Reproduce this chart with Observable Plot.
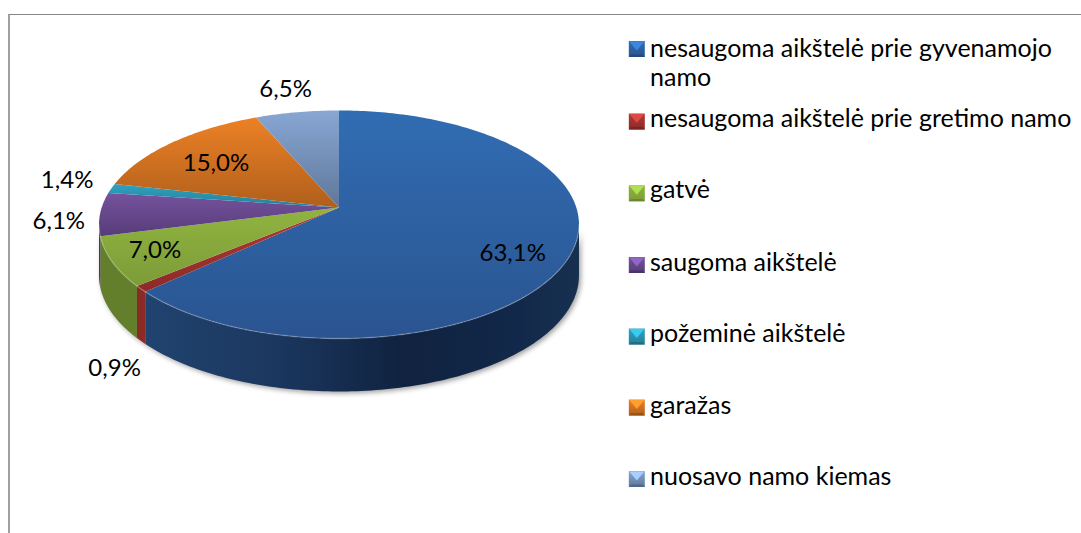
<!DOCTYPE html>
<html lang="lt">
<head>
<meta charset="utf-8">
<script src="https://cdn.jsdelivr.net/npm/d3@7"></script>
<script src="https://cdn.jsdelivr.net/npm/@observablehq/plot@0.6"></script>
<style>
html,body{margin:0;padding:0;width:1081px;height:533px;overflow:hidden;background:#fff}
#frame{position:absolute;left:8px;top:14px;right:-4px;bottom:-4px;border-top:1.5px solid #868686;border-left:2px solid #a0a0a0}
#chart{position:absolute;left:0;top:0}
svg{display:block}
</style>
</head>
<body>
<div id="frame"></div>
<div id="chart"></div>
<script>
// Data
const categories = [
  "nesaugoma aikštelė prie gyvenamojo\nnamo",
  "nesaugoma aikštelė prie gretimo namo",
  "gatvė",
  "saugoma aikštelė",
  "požeminė aikštelė",
  "garažas",
  "nuosavo namo kiemas"
];
const shares = [63.1, 0.9, 7.0, 6.1, 1.4, 15.0, 6.5];
const shareLabels = ["63,1%", "0,9%", "7,0%", "6,1%", "1,4%", "15,0%", "6,5%"];

// Styles
const faceTop = ["#316db3", "#b23a37", "#90b440", "#75529e", "#2ea3c2", "#ec8125", "#88a7d4"];
const faceBottom = ["#2a5490", "#8c2a28", "#7c9c38", "#563c78", "#257f98", "#b05f1c", "#5f7799"];
const wallColor = ["#17305a", "#8c2a28", "#637f2b", "#4a3066", "#1f6c82", "#a0561a", "#5f7799"];
const labelRadius = [0.75, 1.15, 0.75, 1.15, 1.15, 0.75, 1.15];
const labelNudge = [[3, 11], [7, 66], [-17, 3], [-5, 6], [-11, -5], [5, 6], [-6, -11]];
const legendRows = [62, 117.5, 188.5, 261.5, 332.5, 404.5, 475.5];
const markerRows = [48.5, 121, 192.8, 264.5, 336, 407, 478.5];

// Perspective of the pie disc, in unit coordinates around the apex
const tilt = -0.149;
const project = (deg, r = 1, drop = 0) => {
  const t = deg * Math.PI / 180, u = r * Math.sin(t), v = -r * Math.cos(t), d = 1 + tilt * v;
  return {x: u / d, y: v / d + drop};
};
const wallDrop = deg => 0.453 - 0.022 * Math.cos(deg * Math.PI / 180);
const arc = (a, b, drop) => {
  const n = Math.max(1, Math.ceil(Math.abs(b - a)));
  return d3.range(n + 1).map(i => {
    const deg = a + (b - a) * i / n;
    return project(deg, 1, drop ? wallDrop(deg) : 0);
  });
};

const total = d3.sum(shares);
let acc = 0;
const slices = shares.map((s, i) => {
  const start = acc / total * 360;
  acc += s;
  return {i, start, end: acc / total * 360, mid: (start + (acc / total * 360)) / 2};
});
const wallFrom = 98.6, wallTo = 261.4;

const defs = () => {
  const d = d3.create("svg:defs");
  slices.forEach(({i}) => {
    const g = d.append("linearGradient").attr("id", `face${i}`).attr("x1", 0).attr("y1", 0).attr("x2", 0).attr("y2", 1);
    g.append("stop").attr("offset", 0).attr("stop-color", faceTop[i]);
    g.append("stop").attr("offset", 1).attr("stop-color", faceBottom[i]);
    const m = d.append("linearGradient").attr("id", `mark${i}`).attr("x1", 0).attr("y1", 0).attr("x2", 0).attr("y2", 1);
    m.append("stop").attr("offset", 0).attr("stop-color", faceTop[i]);
    m.append("stop").attr("offset", 1).attr("stop-color", faceBottom[i]);
  });
  const w = d.append("linearGradient").attr("id", "wall0").attr("x1", 0).attr("y1", 0).attr("x2", 1).attr("y2", 0);
  [[0, "#20436f"], [0.3, "#1b375f"], [0.6, "#10223f"], [0.85, "#12284a"], [1, "#173050"]]
    .forEach(([o, c]) => w.append("stop").attr("offset", o).attr("stop-color", c));
  return d.node();
};

// Legend marker: a bevelled square, its lighter notch and its darker foot
const square = {draw(c, size) {
  const s = Math.sqrt(size / Math.PI);
  c.moveTo(-s, -s); c.lineTo(s, -s); c.lineTo(s, s); c.lineTo(-s, s); c.closePath();
}};
const notch = {draw(c, size) {
  const s = Math.sqrt(size / Math.PI);
  c.moveTo(-s, -s); c.lineTo(s, -s); c.lineTo(0, s * 0.2); c.closePath();
}};
const sole = {draw(c, size) {
  const s = Math.sqrt(size / Math.PI);
  c.moveTo(-s, s); c.lineTo(s, s); c.lineTo(s * 0.7, s * 0.7); c.lineTo(-s * 0.7, s * 0.7); c.closePath();
}};

const walls = slices
  .filter(s => Math.max(s.start, wallFrom) < Math.min(s.end, wallTo))
  .map(s => {
    const a = Math.max(s.start, wallFrom), b = Math.min(s.end, wallTo);
    return Plot.line([...arc(a, b, false), ...arc(b, a, true)], {
      x: "x", y: "y", stroke: "none",
      fill: s.i === 0 ? "url(#wall0)" : wallColor[s.i]
    });
  });

const outline = [...arc(wallFrom, wallTo, false), ...arc(wallTo, wallFrom, true)];

const faces = slices.map(s => Plot.line(
  [{x: 0, y: 0}, ...arc(s.start, s.end, false)],
  {x: "x", y: "y", stroke: "none", fill: `url(#face${s.i})`}
));

const rims = slices
  .filter(s => Math.max(s.start, wallFrom) < Math.min(s.end, wallTo))
  .map(s => Plot.line(arc(Math.max(s.start, wallFrom), Math.min(s.end, wallTo), false), {
    x: "x", y: "y", stroke: "#fff", strokeOpacity: 0.22, strokeWidth: 1.4
  }));

const labels = slices.map(s => {
  const r = labelRadius[s.i], [dx, dy] = labelNudge[s.i];
  return Plot.text([{...project(s.mid, r), t: shareLabels[s.i]}], {
    x: "x", y: "y", text: "t", dx, dy, fill: "#000",
    fontFamily: "Lato", fontSize: 24, textAnchor: "middle", lineAnchor: "middle"
  });
});

const legend = categories.flatMap((name, i) => [
  Plot.dot([name], {frameAnchor: "top-left", dx: 636.3, dy: markerRows[i], r: 8, symbol: square, fill: `url(#mark${i})`, stroke: "none"}),
  Plot.dot([name], {frameAnchor: "top-left", dx: 636.3, dy: markerRows[i], r: 7.5, symbol: notch, fill: d3.color(faceTop[i]).brighter(0.6).formatHex(), stroke: "none"}),
  Plot.dot([name], {frameAnchor: "top-left", dx: 636.3, dy: markerRows[i], r: 8, symbol: sole, fill: d3.color(faceBottom[i]).darker(0.4).formatHex(), stroke: "none"}),
  Plot.text([name], {
    frameAnchor: "top-left", dx: 649.5, dy: legendRows[i], text: d => d,
    fill: "#000", fontFamily: "Lato", fontSize: 25, textAnchor: "start", lineAnchor: "middle", lineHeight: 29 / 25
  })
]);

const chart = Plot.plot({
  width: 1081,
  height: 533,
  margin: 0,
  style: {background: "transparent"},
  x: {domain: [-1, 1], range: [338.5 - 237.3, 338.5 + 237.3], axis: null},
  y: {domain: [-1, 1], range: [207 - 111.5, 207 + 111.5], axis: null},
  marks: [
    defs,
    Plot.line(outline, {x: "x", y: "y", stroke: "none", fill: "#777", fillOpacity: 0.7, dx: 2, dy: 2, imageFilter: "blur(2.5px)"}),
    ...walls,
    ...faces,
    ...rims,
    ...labels,
    ...legend
  ]
});
document.getElementById("chart").append(chart);
</script>
</body>
</html>
